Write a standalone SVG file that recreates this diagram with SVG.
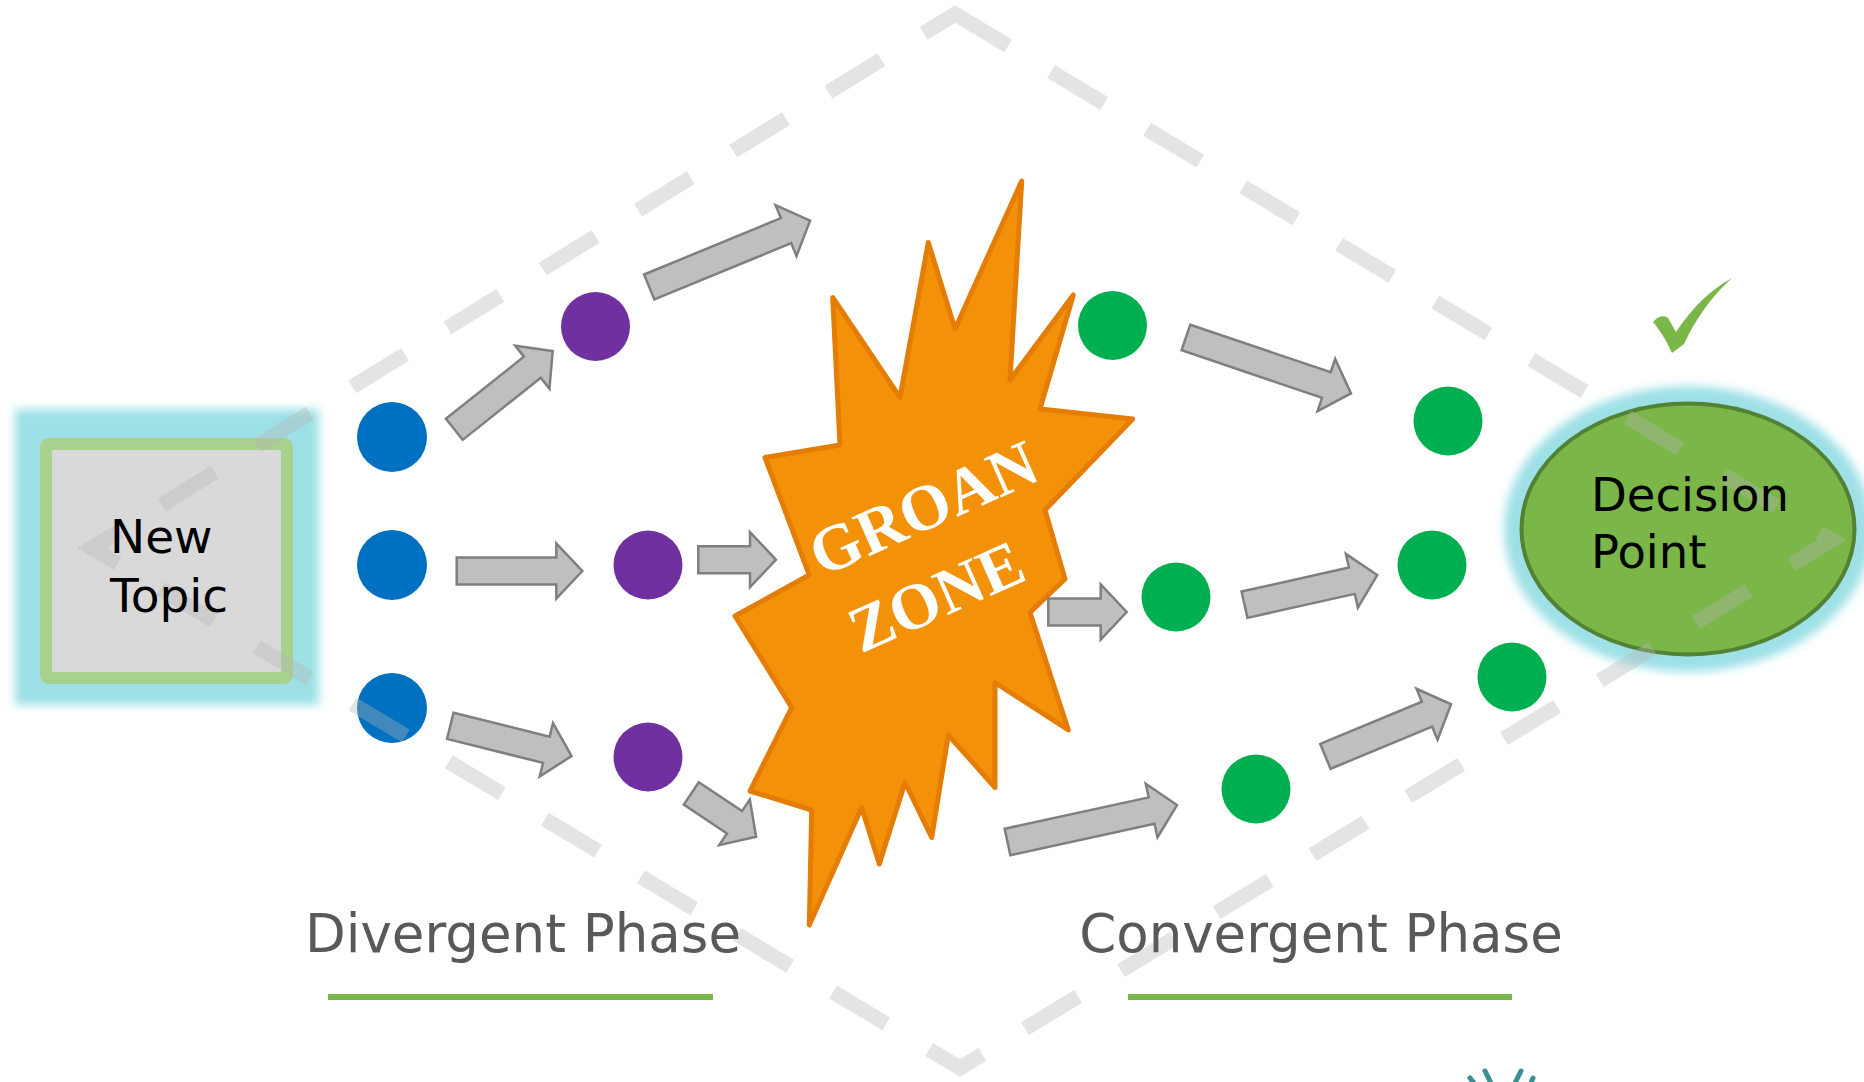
<svg xmlns="http://www.w3.org/2000/svg" width="1864" height="1082" viewBox="0 0 1864 1082">
  <defs>
    <filter id="glow" x="-20%" y="-20%" width="140%" height="140%">
      <feGaussianBlur stdDeviation="5"/>
    </filter>
  </defs>
  <style>
    .blue { fill: #0070c0; }
    .purple { fill: #7030a0; }
    .green { fill: #00b050; }
    .arr { fill: #bfbfbf; stroke: #7f7f7f; stroke-width: 2.5; stroke-linejoin: miter; }
    .node-text { font-family: "DejaVu Sans", Verdana, sans-serif; fill: #000000; }
    .phase { font-family: "DejaVu Sans", Verdana, sans-serif; font-size: 53px; fill: #595959; text-anchor: middle; }
    .groan { font-family: "Liberation Serif", "Times New Roman", serif; font-weight: bold; font-size: 65px; fill: #ffffff; text-anchor: middle; }
    .uline { fill: #7ab648; }
    .outline { fill: none; stroke: #b4b4b4; stroke-opacity: 0.36; stroke-width: 15; stroke-dasharray: 62 50; stroke-linejoin: miter; }
  </style>
  <rect x="0" y="0" width="1864" height="1082" fill="#ffffff"/>

  <!-- New Topic -->
  <g id="new-topic">
    <rect x="15" y="409" width="304" height="296" fill="#9de0e6" filter="url(#glow)"/>
    <rect x="46" y="444" width="241" height="234" rx="3" fill="#d9d9d9" stroke="#a9d18e" stroke-width="12"/>
  </g>

  <!-- Decision Point -->
  <g id="decision-point">
    <ellipse cx="1688" cy="529" rx="184" ry="143" fill="#9de0e6" filter="url(#glow)"/>
    <ellipse cx="1688" cy="529" rx="166.5" ry="125.5" fill="#7ab648" stroke="#548235" stroke-width="4"/>
  </g>

  <!-- check mark -->
  <g id="check">
    <path d="M1653,322 C1658,316 1664,315 1668,318 L1676,332 C1692,308 1710,290 1732,278 C1712,296 1696,318 1684,344 L1672,353 C1666,340 1660,330 1653,322 Z" fill="#7ab648"/>
  </g>

  <!-- Groan zone -->
  <g id="groan-zone">
    <polygon points="1021.7,181 1010,380 1073.3,295 1040,409 1132.7,419 1045,510 1065,579 1030,612.5 1068.3,730 995,682.5 995,787.5 948.3,735 931.7,837.5 905,782.5 879.3,864 861.7,807.5 809.3,925 811.7,810 750,791 791.7,707.5 735,616 809.3,575 765,457.5 840,445 832.7,297.5 900,397.5 928.3,242.5 955,329" fill="#f39208" stroke="#e57c04" stroke-width="5" stroke-linejoin="round"/>
  </g>

  <!-- idea dots -->
  <g id="blue-1"><circle class="blue" cx="392" cy="437" r="35"/></g>
  <g id="blue-2"><circle class="blue" cx="392" cy="565" r="35"/></g>
  <g id="blue-3"><circle class="blue" cx="392" cy="708" r="35"/></g>
  <g id="purple-1"><circle class="purple" cx="595.5" cy="326.5" r="34.5"/></g>
  <g id="purple-2"><circle class="purple" cx="648" cy="565" r="34.5"/></g>
  <g id="purple-3"><circle class="purple" cx="648" cy="757" r="34.5"/></g>
  <g id="green-1"><circle class="green" cx="1112.5" cy="325.5" r="34.5"/></g>
  <g id="green-2"><circle class="green" cx="1176" cy="597" r="34.5"/></g>
  <g id="green-3"><circle class="green" cx="1256" cy="789" r="34.5"/></g>
  <g id="green-4"><circle class="green" cx="1448" cy="421" r="34.5"/></g>
  <g id="green-5"><circle class="green" cx="1432" cy="565" r="34.5"/></g>
  <g id="green-6"><circle class="green" cx="1512" cy="677" r="34.5"/></g>

  <!-- connectors -->
  <g id="connectors">
    <polygon class="arr" transform="translate(454.3,429.3) rotate(-38.5)" points="0,-13.5 99.7,-13.5 99.7,-27.5 125.7,0 99.7,27.5 99.7,13.5 0,13.5"/>
    <polygon class="arr" transform="translate(649.2,287) rotate(-22.4)" points="0,-13.5 148,-13.5 148,-27.5 174,0 148,27.5 148,13.5 0,13.5"/>
    <polygon class="arr" transform="translate(456.7,571)" points="0,-13.5 99.6,-13.5 99.6,-27.5 125.6,0 99.6,27.5 99.6,13.5 0,13.5"/>
    <polygon class="arr" transform="translate(698.3,559.7)" points="0,-13.5 51.7,-13.5 51.7,-27.5 77.7,0 51.7,27.5 51.7,13.5 0,13.5"/>
    <polygon class="arr" transform="translate(450.3,725.8) rotate(14)" points="0,-13.5 99,-13.5 99,-27.5 125,0 99,27.5 99,13.5 0,13.5"/>
    <polygon class="arr" transform="translate(691.3,793.4) rotate(33.8)" points="0,-13.5 52,-13.5 52,-27.5 78,0 52,27.5 52,13.5 0,13.5"/>
    <polygon class="arr" transform="translate(1048.3,612)" points="0,-13.5 52.4,-13.5 52.4,-27.5 78.4,0 52.4,27.5 52.4,13.5 0,13.5"/>
    <polygon class="arr" transform="translate(1007.5,842) rotate(-12.3)" points="0,-13.5 147.5,-13.5 147.5,-27.5 173.5,0 147.5,27.5 147.5,13.5 0,13.5"/>
    <polygon class="arr" transform="translate(1185.9,337.5) rotate(18.7)" points="0,-13.5 148.3,-13.5 148.3,-27.5 174.3,0 148.3,27.5 148.3,13.5 0,13.5"/>
    <polygon class="arr" transform="translate(1244.5,604.7) rotate(-12.6)" points="0,-13.5 110,-13.5 110,-27.5 136,0 110,27.5 110,13.5 0,13.5"/>
    <polygon class="arr" transform="translate(1325.4,756.3) rotate(-22.5)" points="0,-13.5 110,-13.5 110,-27.5 136,0 110,27.5 110,13.5 0,13.5"/>
  </g>

  <!-- dashed phase outline -->
  <g id="phase-outline">
    <path class="outline" d="M955,14 L1832,540 L960,1068 L92,548 Z"/>
  </g>

  <!-- texts -->
  <g id="labels">
    <text class="node-text" font-size="47" x="110" y="553">New</text>
    <text class="node-text" font-size="47" x="110" y="612">Topic</text>
    <text class="node-text" font-size="46.5" x="1591" y="511">Decision</text>
    <text class="node-text" font-size="46.5" x="1591" y="568">Point</text>
    <g transform="translate(932,528) rotate(-24)">
      <text class="groan" x="0" y="0">GROAN</text>
      <text class="groan" x="-24" y="86">ZONE</text>
    </g>
    <text class="phase" x="523" y="952">Divergent Phase</text>
    <rect class="uline" x="328" y="994" width="385" height="6"/>
    <text class="phase" x="1321" y="952">Convergent Phase</text>
    <rect class="uline" x="1128" y="994" width="384" height="6"/>
  </g>

  <!-- partial icon at bottom edge -->
  <g id="bottom-icon" stroke="#3a9090" stroke-width="5" stroke-linecap="round" fill="none">
    <line x1="1470" y1="1078" x2="1474" y2="1083"/>
    <line x1="1485" y1="1071" x2="1491" y2="1083"/>
    <line x1="1521" y1="1071" x2="1515" y2="1083"/>
    <line x1="1533" y1="1078" x2="1531" y2="1083"/>
  </g>
</svg>
